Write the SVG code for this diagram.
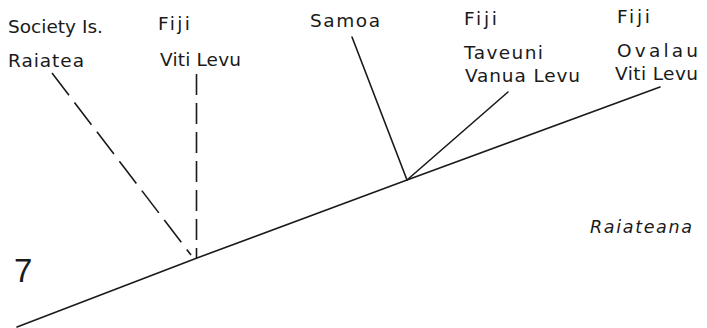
<svg xmlns="http://www.w3.org/2000/svg" width="707" height="328" viewBox="0 0 707 328">
  <style>
    .lbl { font-family: "DejaVu Sans", "Liberation Sans", sans-serif; font-size: 18.5px; fill: #1a1a1a; }
    .it { font-style: italic; font-size: 17.5px; }
    .big { font-family: "Liberation Sans", sans-serif; font-size: 33px; }
    .ln { stroke: #1a1a1a; stroke-width: 1.6; fill: none; stroke-linecap: round; }
    .dash { stroke-dasharray: 28 9; stroke-linecap: butt; }
    .vdash { stroke-dasharray: 21 8; stroke-linecap: butt; }
  </style>
  <rect width="707" height="328" fill="#ffffff"/>

  <!-- branches -->
  <g id="connectors">
    <polyline class="ln" points="17,327 197,258 407,180 660,87"/>
    <line class="ln dash" x1="52" y1="73" x2="191" y2="255"/>
    <line class="ln vdash" x1="196.5" y1="74" x2="196.5" y2="258"/>
    <line class="ln" x1="352" y1="37" x2="407" y2="180"/>
    <line class="ln" x1="508" y1="92" x2="407" y2="180"/>
  </g>

  <g id="society-raiatea">
    <text class="lbl" x="8" y="33" textLength="95" lengthAdjust="spacing">Society Is.</text>
    <text class="lbl" x="8" y="67" textLength="76" lengthAdjust="spacing">Raiatea</text>
  </g>
  <g id="fiji-viti-levu">
    <text class="lbl" x="158" y="30" textLength="32" lengthAdjust="spacing">Fiji</text>
    <text class="lbl" x="160" y="66" textLength="81" lengthAdjust="spacing">Viti Levu</text>
  </g>
  <g id="samoa">
    <text class="lbl" x="310" y="27" textLength="70" lengthAdjust="spacing">Samoa</text>
  </g>
  <g id="fiji-taveuni">
    <text class="lbl" x="464" y="25" textLength="33" lengthAdjust="spacing">Fiji</text>
    <text class="lbl" x="464" y="59" textLength="79" lengthAdjust="spacing">Taveuni</text>
    <text class="lbl" x="465" y="82" textLength="115" lengthAdjust="spacing">Vanua Levu</text>
  </g>
  <g id="fiji-ovalau">
    <text class="lbl" x="617" y="23" textLength="33" lengthAdjust="spacing">Fiji</text>
    <text class="lbl" x="617" y="57" textLength="81" lengthAdjust="spacing">Ovalau</text>
    <text class="lbl" x="615" y="80" textLength="83" lengthAdjust="spacing">Viti Levu</text>
  </g>
  <g id="taxon">
    <text class="lbl it" x="590" y="233" textLength="102" lengthAdjust="spacing">Raiateana</text>
  </g>
  <g id="figure-number">
    <text class="lbl big" x="14" y="282">7</text>
  </g>
</svg>
